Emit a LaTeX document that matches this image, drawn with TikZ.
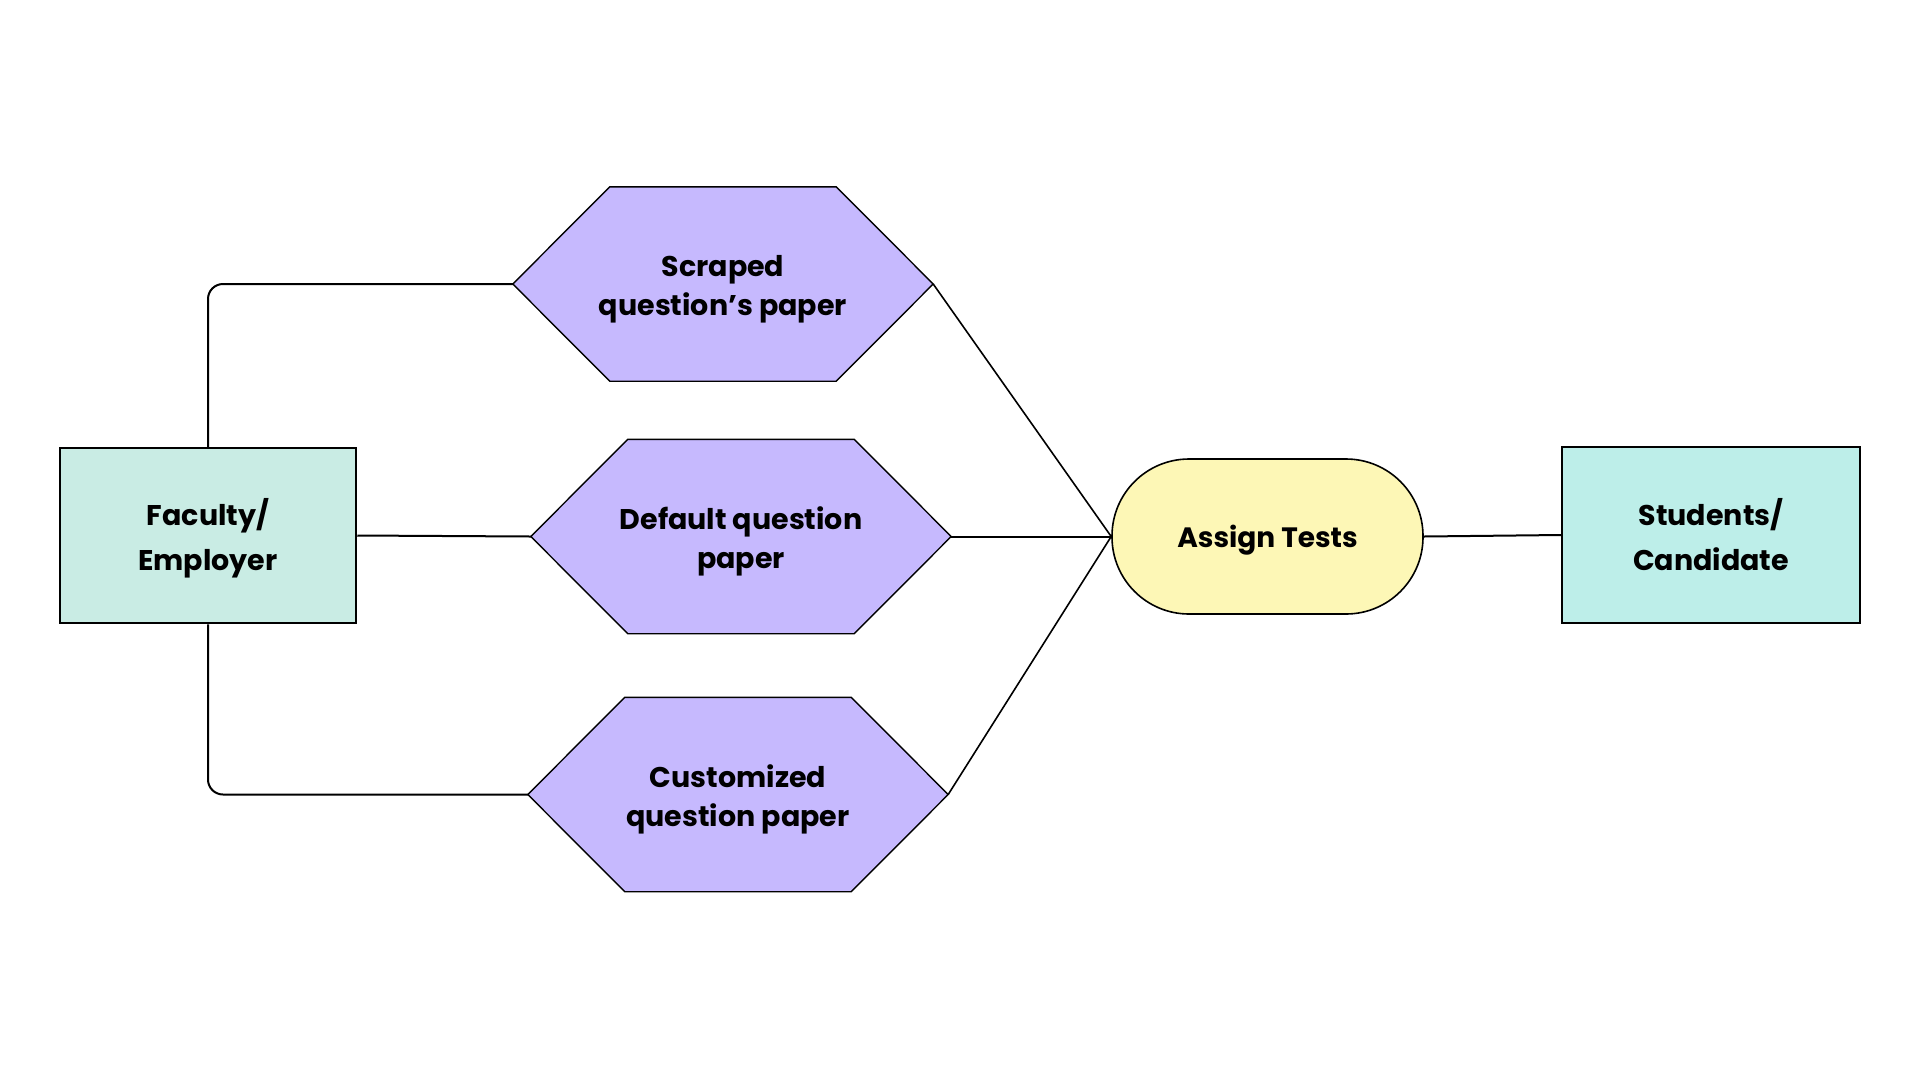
\documentclass[tikz,border=0pt]{standalone}
\usepackage{fontspec}
\setmainfont{Poppins}
\pgfdeclarelayer{background}
\pgfsetlayers{background,main}
\definecolor{boxA}{HTML}{C9ECE4}
\definecolor{boxB}{HTML}{BDEEE9}
\definecolor{hexfill}{HTML}{C6B9FE}
\definecolor{assignfill}{HTML}{FDF7B6}
\tikzset{
  rectbox/.style={draw=black, line width=2.5pt, minimum width=296pt, minimum height=175pt, inner sep=0pt},
  hexnode/.style={minimum width=420pt, minimum height=194pt, inner sep=0pt},
  hexshape/.style={fill=hexfill, draw=black, line width=1.4pt, line join=miter},
  assignbox/.style={draw=black, line width=1.6pt, fill=assignfill, rounded corners=77pt, minimum width=311pt, minimum height=155pt, inner sep=0pt},
  boxtext/.style={inner sep=0pt, align=center, font=\fontsize{28.5}{45}\selectfont\bfseries},
  hextext/.style={inner sep=0pt, align=center, font=\fontsize{28.5}{39}\selectfont\bfseries},
  conn/.style={draw=black, line width=2pt},
}
\newcommand{\hexoutline}[1]{%
  \begin{pgfonlayer}{background}
  \path[hexshape] (#1.west) -- ([xshift=97pt]#1.north west) -- ([xshift=-97pt]#1.north east) -- (#1.east) -- ([xshift=-97pt]#1.south east) -- ([xshift=97pt]#1.south west) -- cycle;
  \end{pgfonlayer}}
\begin{document}
\begin{tikzpicture}[x=1pt, y=-1pt]
\useasboundingbox (0,0) rectangle (1920,1080);
\node[rectbox, fill=boxA] (fac) at (208,535.5) {};
\node[boxtext] (facT) at ([yshift=-3pt]fac.center) {Faculty/\\Employer};
\node[rectbox, fill=boxB, minimum width=298pt, minimum height=176pt] (stu) at (1711,535) {};
\node[boxtext] (stuT) at (stu.center) {Students/\\Candidate};
\node[hexnode] (scr) at (723,284) {};
\node[hexnode] (def) at (741,536.5) {};
\node[hexnode] (cus) at (738,794.5) {};
\hexoutline{scr}
\hexoutline{def}
\hexoutline{cus}
\node[hextext] (scrT) at ([yshift=-5pt]scr.center) {Scraped\\question’s paper};
\node[hextext] (defT) at ([yshift=-5pt]def.center) {Default question\\paper};
\node[hextext] (cusT) at ([yshift=-5pt]cus.center) {Customized\\question paper};
\node[assignbox] (asg) at (1267.5,536.5) {};
\node[boxtext, font=\fontsize{28}{45}\selectfont\bfseries] (asgT) at ([yshift=-4pt]asg.center) {Assign Tests};
\draw[conn, rounded corners=15pt] (fac.north) |- (scr.west);
\draw[conn] (fac.east) -- (def.west);
\draw[conn, rounded corners=15pt] (fac.south) |- (cus.west);
\draw[conn, line width=1.6pt] (scr.east) -- (asg.west);
\draw[conn] (def.east) -- (asg.west);
\draw[conn, line width=1.6pt] (cus.east) -- (asg.west);
\draw[conn] (asg.east) -- (stu.west);
\end{tikzpicture}
\end{document}
